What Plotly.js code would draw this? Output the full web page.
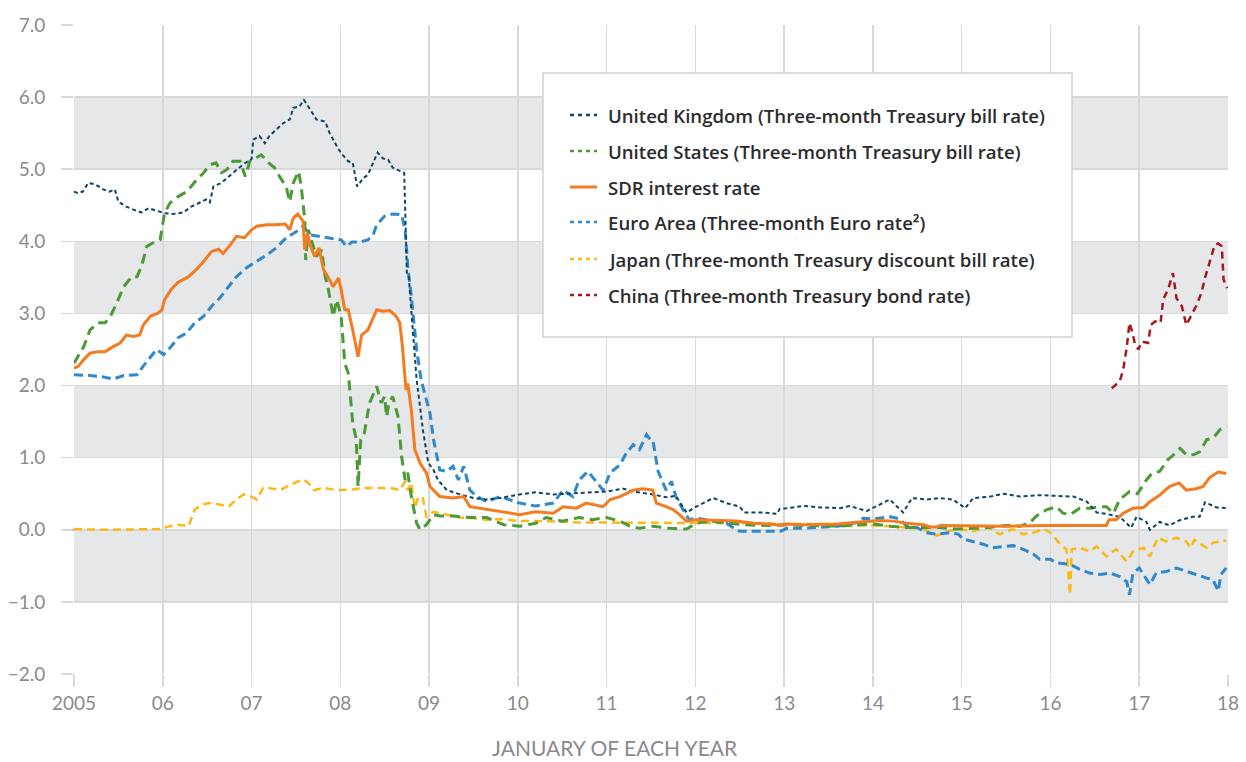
<!DOCTYPE html>
<html>
<head>
<meta charset="utf-8">
<script src="https://cdn.plot.ly/plotly-3.0.1.min.js"></script>
<style>html,body{margin:0;padding:0;background:#fff;}#chart{width:1246px;height:762px;}</style>
</head>
<body>
<div id="chart"></div>
<script>
// ---- Data (decimal year, percent) ----
const seriesNames = [
  "United Kingdom (Three-month Treasury bill rate)",
  "United States (Three-month Treasury bill rate)",
  "SDR interest rate",
  "Euro Area (Three-month Euro rate\u00B2)",
  "Japan (Three-month Treasury discount bill rate)",
  "China (Three-month Treasury bond rate)"
];
const yearTicks = [2005,2006,2007,2008,2009,2010,2011,2012,2013,2014,2015,2016,2017,2018];
const yearLabels = ["2005","06","07","08","09","10","11","12","13","14","15","16","17","18"];

const ukPts = [[2005.0,4.69],[2005.04,4.67],[2005.1,4.69],[2005.16,4.81],[2005.24,4.79],[2005.33,4.72],[2005.4,4.69],[2005.46,4.72],[2005.5,4.55],[2005.59,4.48],[2005.67,4.44],[2005.76,4.40],[2005.84,4.46],[2005.93,4.43],[2006.02,4.39],[2006.12,4.38],[2006.23,4.40],[2006.32,4.48],[2006.42,4.54],[2006.49,4.58],[2006.53,4.54],[2006.57,4.76],[2006.66,4.81],[2006.74,4.90],[2006.83,4.99],[2006.92,5.08],[2007.0,5.14],[2007.02,5.41],[2007.09,5.46],[2007.15,5.36],[2007.2,5.46],[2007.28,5.55],[2007.36,5.64],[2007.43,5.69],[2007.47,5.85],[2007.54,5.87],[2007.59,5.96],[2007.66,5.83],[2007.73,5.69],[2007.83,5.66],[2007.88,5.50],[2007.96,5.32],[2008.01,5.22],[2008.09,5.11],[2008.14,5.09],[2008.19,4.76],[2008.26,4.88],[2008.31,4.92],[2008.35,5.04],[2008.42,5.23],[2008.48,5.15],[2008.54,5.13],[2008.59,5.02],[2008.67,4.97],[2008.72,4.95],[2008.75,3.56],[2008.77,3.52],[2008.86,2.08],[2008.93,1.39],[2008.99,0.93],[2009.05,0.83],[2009.1,0.69],[2009.2,0.55],[2009.35,0.49],[2009.5,0.44],[2009.65,0.42],[2009.8,0.44],[2010.02,0.49],[2010.2,0.52],[2010.4,0.49],[2010.58,0.50],[2010.77,0.52],[2011.0,0.53],[2011.19,0.57],[2011.3,0.53],[2011.52,0.49],[2011.67,0.45],[2011.78,0.47],[2011.86,0.32],[2011.9,0.24],[2012.01,0.32],[2012.2,0.44],[2012.35,0.37],[2012.5,0.32],[2012.55,0.24],[2012.66,0.24],[2012.77,0.24],[2012.92,0.22],[2012.95,0.29],[2013.03,0.30],[2013.22,0.33],[2013.41,0.31],[2013.63,0.30],[2013.74,0.33],[2013.93,0.26],[2014.19,0.42],[2014.34,0.24],[2014.44,0.44],[2014.6,0.42],[2014.75,0.44],[2014.9,0.42],[2015.04,0.30],[2015.13,0.44],[2015.32,0.46],[2015.47,0.50],[2015.66,0.46],[2015.88,0.48],[2016.07,0.47],[2016.26,0.46],[2016.41,0.39],[2016.52,0.24],[2016.63,0.22],[2016.78,0.18],[2016.91,0.03],[2016.97,0.18],[2017.08,0.11],[2017.12,0.0],[2017.23,0.11],[2017.34,0.06],[2017.45,0.13],[2017.6,0.18],[2017.68,0.18],[2017.74,0.38],[2017.87,0.31],[2018.0,0.30]];

const usPts = [[2005.0,2.31],[2005.11,2.54],[2005.18,2.77],[2005.27,2.87],[2005.35,2.87],[2005.41,2.96],[2005.48,3.14],[2005.56,3.37],[2005.65,3.51],[2005.71,3.51],[2005.76,3.65],[2005.82,3.93],[2005.89,3.98],[2005.97,4.02],[2006.02,4.39],[2006.08,4.53],[2006.16,4.61],[2006.27,4.69],[2006.38,4.85],[2006.46,4.95],[2006.53,5.06],[2006.6,5.09],[2006.66,4.95],[2006.72,4.99],[2006.79,5.11],[2006.87,5.11],[2006.93,4.90],[2006.98,5.11],[2007.04,5.15],[2007.11,5.20],[2007.19,5.09],[2007.26,5.02],[2007.32,4.89],[2007.39,4.76],[2007.43,4.55],[2007.47,4.81],[2007.53,4.97],[2007.56,4.76],[2007.6,4.30],[2007.61,3.74],[2007.64,4.16],[2007.68,3.98],[2007.73,3.79],[2007.79,3.88],[2007.83,3.51],[2007.86,3.37],[2007.92,2.96],[2007.96,3.19],[2008.01,2.96],[2008.05,2.31],[2008.09,2.17],[2008.14,1.48],[2008.18,1.25],[2008.2,0.60],[2008.23,1.25],[2008.27,1.34],[2008.33,1.76],[2008.41,1.99],[2008.46,1.76],[2008.5,1.85],[2008.52,1.57],[2008.55,1.76],[2008.59,1.85],[2008.65,1.57],[2008.69,1.02],[2008.73,0.69],[2008.76,0.79],[2008.8,0.46],[2008.86,0.09],[2008.9,0.0],[2008.97,0.07],[2009.05,0.21],[2009.12,0.19],[2009.27,0.19],[2009.46,0.17],[2009.65,0.17],[2009.84,0.07],[2010.02,0.05],[2010.2,0.09],[2010.32,0.17],[2010.5,0.12],[2010.69,0.17],[2010.84,0.14],[2011.0,0.17],[2011.15,0.12],[2011.26,0.05],[2011.37,0.02],[2011.52,0.05],[2011.71,0.02],[2011.9,0.01],[2012.01,0.09],[2012.16,0.12],[2012.35,0.09],[2012.54,0.07],[2012.73,0.06],[2013.03,0.07],[2013.22,0.06],[2013.6,0.05],[2013.82,0.07],[2014.0,0.08],[2014.2,0.05],[2014.38,0.03],[2014.57,0.03],[2014.76,0.03],[2014.94,0.01],[2015.13,0.02],[2015.3,0.03],[2015.5,0.06],[2015.66,0.05],[2015.77,0.10],[2015.84,0.19],[2015.96,0.28],[2016.07,0.32],[2016.14,0.23],[2016.22,0.21],[2016.33,0.30],[2016.44,0.30],[2016.56,0.32],[2016.63,0.32],[2016.71,0.23],[2016.78,0.42],[2016.89,0.53],[2016.98,0.50],[2017.08,0.69],[2017.15,0.79],[2017.23,0.81],[2017.32,0.97],[2017.37,1.02],[2017.46,1.13],[2017.53,1.04],[2017.61,1.04],[2017.68,1.08],[2017.76,1.25],[2017.83,1.27],[2017.91,1.39],[2017.99,1.43]];

const sdrPts = [[2005.0,2.24],[2005.05,2.27],[2005.11,2.36],[2005.18,2.45],[2005.27,2.47],[2005.35,2.47],[2005.44,2.54],[2005.52,2.59],[2005.59,2.70],[2005.67,2.68],[2005.74,2.70],[2005.78,2.84],[2005.86,2.96],[2005.94,3.0],[2005.99,3.05],[2006.02,3.19],[2006.1,3.34],[2006.17,3.43],[2006.29,3.51],[2006.38,3.61],[2006.46,3.72],[2006.55,3.86],[2006.63,3.89],[2006.68,3.83],[2006.76,3.95],[2006.83,4.07],[2006.92,4.05],[2007.0,4.16],[2007.06,4.21],[2007.17,4.23],[2007.28,4.23],[2007.38,4.24],[2007.43,4.16],[2007.47,4.32],[2007.52,4.38],[2007.56,4.32],[2007.58,4.28],[2007.6,3.88],[2007.63,4.11],[2007.66,3.95],[2007.71,3.79],[2007.76,3.91],[2007.81,3.61],[2007.86,3.51],[2007.92,3.37],[2007.98,3.49],[2008.01,3.33],[2008.05,3.05],[2008.09,3.05],[2008.14,2.77],[2008.2,2.40],[2008.24,2.70],[2008.31,2.77],[2008.41,3.05],[2008.48,3.03],[2008.56,3.04],[2008.63,2.96],[2008.67,2.87],[2008.7,2.54],[2008.74,1.94],[2008.76,2.03],[2008.8,1.66],[2008.84,1.11],[2008.9,0.92],[2008.97,0.79],[2009.01,0.60],[2009.12,0.46],[2009.27,0.44],[2009.39,0.46],[2009.46,0.32],[2009.65,0.28],[2009.84,0.25],[2010.02,0.21],[2010.2,0.25],[2010.4,0.23],[2010.51,0.32],[2010.66,0.30],[2010.77,0.37],[2010.96,0.32],[2011.04,0.42],[2011.15,0.46],[2011.3,0.55],[2011.41,0.57],[2011.52,0.55],[2011.56,0.37],[2011.67,0.32],[2011.75,0.28],[2011.82,0.21],[2011.9,0.12],[2012.01,0.14],[2012.27,0.13],[2012.46,0.12],[2012.66,0.09],[2012.84,0.08],[2012.96,0.06],[2013.03,0.08],[2013.22,0.07],[2013.6,0.08],[2013.78,0.10],[2013.93,0.12],[2014.08,0.13],[2014.23,0.12],[2014.38,0.09],[2014.57,0.07],[2014.65,0.04],[2014.72,0.04],[2014.76,0.06],[2015.5,0.05],[2016.0,0.06],[2016.63,0.06],[2016.66,0.14],[2016.74,0.14],[2016.82,0.23],[2016.93,0.30],[2017.05,0.31],[2017.12,0.39],[2017.23,0.48],[2017.34,0.60],[2017.45,0.65],[2017.53,0.55],[2017.64,0.57],[2017.72,0.60],[2017.79,0.72],[2017.89,0.80],[2017.98,0.78]];

const euroPts = [[2005.0,2.15],[2005.18,2.14],[2005.33,2.12],[2005.44,2.09],[2005.56,2.14],[2005.71,2.15],[2005.78,2.27],[2005.86,2.40],[2005.93,2.50],[2006.01,2.43],[2006.08,2.52],[2006.17,2.66],[2006.27,2.73],[2006.36,2.87],[2006.46,2.96],[2006.55,3.10],[2006.64,3.21],[2006.74,3.37],[2006.83,3.51],[2006.94,3.63],[2007.06,3.72],[2007.17,3.81],[2007.28,3.91],[2007.39,4.05],[2007.51,4.14],[2007.58,4.21],[2007.66,4.09],[2007.77,4.07],[2007.92,4.04],[2008.01,4.02],[2008.07,3.93],[2008.13,3.99],[2008.22,3.99],[2008.31,4.02],[2008.37,4.09],[2008.41,4.23],[2008.5,4.35],[2008.59,4.38],[2008.69,4.37],[2008.73,4.16],[2008.76,3.65],[2008.8,3.24],[2008.86,2.50],[2008.91,2.08],[2008.97,1.80],[2009.01,1.62],[2009.05,1.25],[2009.12,0.83],[2009.2,0.81],[2009.27,0.88],[2009.33,0.69],[2009.39,0.88],[2009.46,0.55],[2009.54,0.46],[2009.65,0.39],[2009.8,0.46],[2010.02,0.37],[2010.2,0.33],[2010.4,0.37],[2010.51,0.55],[2010.62,0.46],[2010.69,0.69],[2010.79,0.81],[2010.88,0.67],[2010.96,0.55],[2011.04,0.79],[2011.15,0.90],[2011.22,1.06],[2011.3,1.18],[2011.37,1.11],[2011.45,1.32],[2011.48,1.27],[2011.52,1.25],[2011.58,0.81],[2011.67,0.55],[2011.73,0.67],[2011.78,0.46],[2011.86,0.28],[2011.93,0.14],[2012.01,0.16],[2012.2,0.12],[2012.35,0.09],[2012.46,0.0],[2012.5,-0.02],[2012.66,-0.02],[2012.96,-0.02],[2013.03,0.02],[2013.22,0.02],[2013.6,0.05],[2013.82,0.10],[2013.89,0.16],[2014.0,0.15],[2014.2,0.18],[2014.3,0.15],[2014.38,0.05],[2014.5,0.03],[2014.6,-0.04],[2014.72,-0.06],[2014.87,-0.04],[2014.96,-0.06],[2015.02,-0.13],[2015.13,-0.16],[2015.24,-0.20],[2015.35,-0.25],[2015.47,-0.23],[2015.58,-0.22],[2015.69,-0.27],[2015.81,-0.34],[2015.88,-0.41],[2016.0,-0.41],[2016.07,-0.46],[2016.22,-0.48],[2016.33,-0.55],[2016.44,-0.60],[2016.56,-0.62],[2016.67,-0.60],[2016.78,-0.65],[2016.86,-0.72],[2016.89,-0.90],[2016.93,-0.60],[2017.0,-0.53],[2017.06,-0.65],[2017.12,-0.76],[2017.19,-0.60],[2017.3,-0.58],[2017.42,-0.53],[2017.53,-0.58],[2017.64,-0.62],[2017.76,-0.67],[2017.83,-0.69],[2017.89,-0.85],[2017.92,-0.62],[2017.98,-0.53]];

const japanPts = [[2005.0,0.01],[2005.33,0.0],[2005.97,0.01],[2006.08,0.05],[2006.19,0.07],[2006.29,0.05],[2006.36,0.28],[2006.44,0.35],[2006.53,0.37],[2006.64,0.35],[2006.74,0.32],[2006.83,0.42],[2006.91,0.49],[2007.0,0.46],[2007.06,0.42],[2007.13,0.58],[2007.2,0.58],[2007.32,0.55],[2007.43,0.62],[2007.58,0.70],[2007.64,0.65],[2007.7,0.55],[2007.81,0.58],[2007.96,0.55],[2008.14,0.56],[2008.26,0.58],[2008.41,0.58],[2008.56,0.58],[2008.67,0.55],[2008.73,0.67],[2008.76,0.55],[2008.8,0.65],[2008.84,0.30],[2008.88,0.46],[2008.93,0.44],[2008.97,0.18],[2009.05,0.25],[2009.2,0.21],[2009.35,0.17],[2009.5,0.16],[2009.65,0.14],[2009.8,0.15],[2010.02,0.12],[2010.24,0.12],[2010.47,0.11],[2010.77,0.10],[2011.0,0.10],[2011.22,0.10],[2011.52,0.09],[2011.9,0.09],[2012.27,0.09],[2012.66,0.09],[2013.03,0.08],[2013.6,0.08],[2013.63,0.05],[2014.0,0.06],[2014.2,0.05],[2014.38,0.03],[2014.57,0.01],[2014.72,-0.08],[2014.83,-0.02],[2014.98,0.01],[2015.13,-0.02],[2015.28,0.04],[2015.43,-0.06],[2015.58,0.01],[2015.69,-0.06],[2015.81,-0.04],[2015.92,0.01],[2016.0,-0.04],[2016.11,-0.20],[2016.18,-0.27],[2016.2,-0.65],[2016.22,-0.90],[2016.24,-0.27],[2016.33,-0.25],[2016.44,-0.30],[2016.52,-0.23],[2016.63,-0.37],[2016.74,-0.27],[2016.86,-0.44],[2016.93,-0.30],[2017.05,-0.25],[2017.12,-0.37],[2017.21,-0.11],[2017.3,-0.16],[2017.42,-0.11],[2017.53,-0.16],[2017.58,-0.25],[2017.62,-0.14],[2017.76,-0.25],[2017.83,-0.18],[2017.98,-0.15]];

const chinaPts = [[2016.69,1.96],[2016.73,2.01],[2016.78,2.06],[2016.82,2.22],[2016.86,2.54],[2016.89,2.87],[2016.92,2.75],[2016.95,2.59],[2016.99,2.50],[2017.03,2.61],[2017.1,2.59],[2017.13,2.84],[2017.18,2.89],[2017.24,2.87],[2017.27,3.19],[2017.33,3.35],[2017.38,3.56],[2017.42,3.21],[2017.48,3.10],[2017.53,2.84],[2017.59,2.98],[2017.64,3.10],[2017.7,3.28],[2017.74,3.49],[2017.8,3.74],[2017.85,3.95],[2017.89,3.97],[2017.93,3.93],[2017.95,3.47],[2017.99,3.35]];

// ---- Styles ----
const styles = [
  {color:"#0f4465", width:2,   dash:"4px,3px"},
  {color:"#4a9a35", width:3,   dash:"10px,6px"},
  {color:"#f47b20", width:3,   dash:"solid"},
  {color:"#2f89cc", width:3,   dash:"9px,5px"},
  {color:"#fdb813", width:2.5, dash:"8px,5px"},
  {color:"#a4191d", width:2.5, dash:"7px,5px"}
];
const seriesPts = [ukPts, usPts, sdrPts, euroPts, japanPts, chinaPts];
const drawOrder = [4, 3, 1, 0, 2, 5];

const traces = drawOrder.map(i => ({
  type: "scatter", mode: "lines", name: seriesNames[i],
  x: seriesPts[i].map(p => p[0]), y: seriesPts[i].map(p => p[1]),
  line: {color: styles[i].color, width: styles[i].width, dash: styles[i].dash},
  showlegend: false, hoverinfo: "x+y"
}));

// plot area in pixels
const W = 1246, H = 762, L = 74, R = 18, T = 25, B = 88;
const pw = W - L - R, ph = H - T - B;
const px = x => (x - L) / pw;
const py = y => (H - B - y) / ph;

const shapes = [];
[[5,6],[3,4],[1,2],[-1,0]].forEach(b => shapes.push({
  type:"rect", xref:"paper", yref:"y", x0:0, x1:1, y0:b[0], y1:b[1],
  fillcolor:"#e6e7e8", line:{width:0}, layer:"below"
}));
// zero line
shapes.push({type:"line", xref:"paper", yref:"y", x0:px(62), x1:(2016.5-2005)/13, y0:0, y1:0,
  line:{color:"#7a7a7a", width:1.5}, layer:"between"});
// legend box
shapes.push({type:"rect", xref:"paper", yref:"paper", x0:px(543), x1:px(1072), y0:py(337), y1:py(73),
  fillcolor:"#ffffff", line:{color:"#d2d2d2", width:1.5}, layer:"above"});

const annotations = [];
const legendY = [115, 151, 187, 222, 259, 295];
seriesNames.forEach((n, i) => {
  shapes.push({type:"line", xref:"paper", yref:"paper", x0:px(570), x1:px(597), y0:py(legendY[i]), y1:py(legendY[i]),
    line:{color:styles[i].color, width: i===2 ? 3 : 2.5, dash: i===2 ? "solid" : "4px,4px"}, layer:"above"});
  annotations.push({xref:"paper", yref:"paper", x:px(606), y:py(legendY[i]), xanchor:"left", yanchor:"middle",
    text:n, showarrow:false, font:{family:"Open Sans", size:18.6, color:"#2b2b2d", weight:600}});
});
annotations.push({xref:"paper", yref:"paper", x:px(615), y:py(747), xanchor:"center", yanchor:"middle",
  text:"JANUARY OF EACH YEAR", showarrow:false, font:{family:"Lato", size:21, color:"#8a8a8d"}});

const layout = {
  width: W, height: H,
  margin: {l:L, r:R, t:T, b:B, pad:0},
  paper_bgcolor: "#ffffff", plot_bgcolor: "#ffffff",
  font: {family:"Lato", color:"#8a8a8d", size:18},
  showlegend: false,
  xaxis: {
    range:[2005, 2018], tickvals: yearTicks, ticktext: yearLabels,
    showgrid:true, gridcolor:"#d9d9d9", gridwidth:1.5,
    ticks:"outside", ticklen:12, tickwidth:1.5, tickcolor:"#d9d9d9",
    zeroline:false, showline:false, fixedrange:true,
    tickfont:{family:"Lato", size:19, color:"#8a8a8d"}
  },
  yaxis: {
    range:[-2, 7], tickmode:"linear", tick0:0, dtick:1, tickformat:".1f",
    showgrid:true, gridcolor:"#d9d9d9", gridwidth:1.5,
    ticks:"outside", ticklen:12, tickwidth:1.5, tickcolor:"#d9d9d9",
    ticklabelstandoff: 12,
    zeroline:false, showline:false, fixedrange:true,
    tickfont:{family:"Lato", size:19, color:"#8a8a8d"}
  },
  shapes: shapes,
  annotations: annotations
};

Plotly.newPlot("chart", traces, layout, {displayModeBar:false, staticPlot:true});
</script>
</body>
</html>
